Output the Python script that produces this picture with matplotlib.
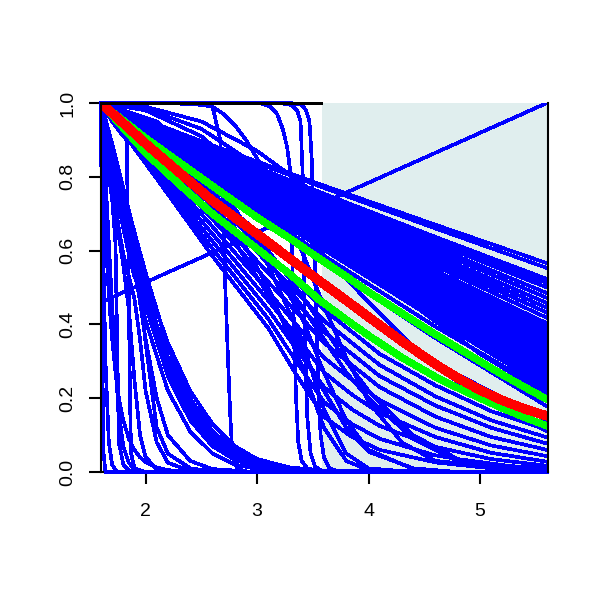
import matplotlib
matplotlib.use('Agg')
import matplotlib.pyplot as plt

# slowly falling, almost straight curves (the big fan)
x_lin = [1.6, 2.6, 3.6, 4.6, 5.6]
lin_curves = [
    [1.0, 0.885, 0.776, 0.670, 0.566],
    [1.0, 0.882, 0.770, 0.660, 0.553],
    [1.0, 0.874, 0.754, 0.637, 0.523],
    [1.0, 0.871, 0.749, 0.629, 0.512],
    [1.0, 0.868, 0.742, 0.620, 0.500],
    [1.0, 0.864, 0.735, 0.609, 0.485],
    [1.0, 0.860, 0.728, 0.599, 0.472],
    [1.0, 0.856, 0.721, 0.588, 0.458],
    [1.0, 0.853, 0.714, 0.578, 0.445],
    [1.0, 0.849, 0.707, 0.568, 0.432],
    [1.0, 0.846, 0.700, 0.558, 0.418],
    [1.0, 0.842, 0.693, 0.546, 0.403],
    [1.0, 0.839, 0.687, 0.538, 0.392],
    [1.0, 0.836, 0.681, 0.530, 0.381],
    [1.0, 0.833, 0.676, 0.521, 0.370],
    [1.0, 0.830, 0.670, 0.514, 0.360],
    [1.0, 0.828, 0.665, 0.506, 0.350],
    [1.0, 0.825, 0.661, 0.499, 0.341],
    [1.0, 0.823, 0.656, 0.492, 0.332],
    [1.0, 0.821, 0.651, 0.485, 0.323],
    [1.0, 0.818, 0.647, 0.479, 0.314],
    [1.0, 0.816, 0.642, 0.472, 0.305],
    [1.0, 0.813, 0.637, 0.465, 0.296],
    [1.0, 0.811, 0.633, 0.458, 0.287],
    [1.0, 0.809, 0.628, 0.451, 0.278],
    [1.0, 0.806, 0.623, 0.444, 0.268],
    [1.0, 0.803, 0.618, 0.436, 0.258],
    [1.0, 0.801, 0.613, 0.428, 0.248],
    [1.0, 0.798, 0.608, 0.421, 0.238],
    [1.0, 0.795, 0.602, 0.413, 0.228],
    [1.0, 0.789, 0.586, 0.394, 0.218],
    [1.0, 0.778, 0.564, 0.363, 0.178],
    [1.0, 0.751, 0.506, 0.295, 0.140],
]

# decays below the band: near straight to x~3, then bending down
x_decay = [1.6, 2.1, 2.6, 3.1, 3.35, 3.6, 3.85, 4.1, 4.6, 5.1, 5.6]
decay_curves = [
    [1.0, 0.875, 0.740, 0.590, 0.515, 0.44, 0.380, 0.320, 0.235, 0.165, 0.115],
    [1.0, 0.865, 0.720, 0.565, 0.490, 0.41, 0.350, 0.290, 0.205, 0.140, 0.094],
    [1.0, 0.855, 0.700, 0.540, 0.460, 0.38, 0.320, 0.260, 0.180, 0.120, 0.077],
    [1.0, 0.845, 0.685, 0.515, 0.435, 0.35, 0.290, 0.230, 0.150, 0.095, 0.060],
    [1.0, 0.835, 0.665, 0.490, 0.400, 0.31, 0.250, 0.195, 0.120, 0.072, 0.043],
    [1.0, 0.825, 0.645, 0.465, 0.370, 0.27, 0.210, 0.160, 0.095, 0.052, 0.028],
    [1.0, 0.815, 0.625, 0.440, 0.335, 0.23, 0.170, 0.125, 0.068, 0.035, 0.017],
    [1.0, 0.805, 0.605, 0.415, 0.300, 0.19, 0.130, 0.090, 0.045, 0.020, 0.009],
    [1.0, 0.795, 0.585, 0.390, 0.265, 0.15, 0.095, 0.060, 0.026, 0.010, 0.004],
]

# curves that hold up and then fall to zero around x = 3.6-4.8
x_late = [1.6, 2.1, 2.6, 3.1, 3.4, 3.6, 3.8, 4.0, 4.4, 4.8, 5.6]
late_curves = [
    [1.0, 0.95, 0.82, 0.56, 0.36, 0.17, 0.05, 0.010, 0.000, 0.000, 0.0],
    [1.0, 0.93, 0.77, 0.50, 0.29, 0.12, 0.03, 0.005, 0.000, 0.000, 0.0],
    [1.0, 0.94, 0.80, 0.58, 0.42, 0.27, 0.14, 0.060, 0.008, 0.000, 0.0],
    [1.0, 0.90, 0.72, 0.48, 0.33, 0.22, 0.12, 0.055, 0.010, 0.000, 0.0],
    [1.0, 0.92, 0.78, 0.60, 0.48, 0.39, 0.30, 0.220, 0.100, 0.035, 0.003],
    [1.0, 0.91, 0.76, 0.57, 0.45, 0.36, 0.27, 0.200, 0.090, 0.030, 0.002],
]

# fast decays reaching zero near x = 2.5-3.3
x_fast = [1.6, 1.7, 1.8, 1.9, 2.0, 2.2, 2.4, 2.6, 2.8, 3.0, 3.3, 3.6, 5.6]
fast_curves = [
    [1.0, 0.88, 0.75, 0.62, 0.50, 0.30, 0.170, 0.090, 0.045, 0.020, 0.005, 0.001, 0.0],
    [1.0, 0.87, 0.73, 0.60, 0.48, 0.28, 0.155, 0.080, 0.040, 0.018, 0.004, 0.001, 0.0],
    [1.0, 0.86, 0.71, 0.57, 0.45, 0.26, 0.140, 0.070, 0.033, 0.014, 0.003, 0.000, 0.0],
    [1.0, 0.89, 0.77, 0.65, 0.54, 0.34, 0.200, 0.110, 0.055, 0.026, 0.008, 0.002, 0.0],
    [1.0, 0.87, 0.74, 0.61, 0.49, 0.31, 0.190, 0.110, 0.060, 0.030, 0.010, 0.003, 0.0],
    [1.0, 0.88, 0.76, 0.64, 0.52, 0.35, 0.220, 0.130, 0.070, 0.035, 0.012, 0.004, 0.0],
    [1.0, 0.85, 0.69, 0.54, 0.41, 0.22, 0.110, 0.050, 0.020, 0.008, 0.002, 0.000, 0.0],
    [1.0, 0.86, 0.72, 0.58, 0.46, 0.29, 0.180, 0.100, 0.050, 0.025, 0.007, 0.002, 0.0],
]

# very steep drops at the left edge
x_left = [1.6, 1.61, 1.62, 1.64, 1.67, 1.7, 1.73, 1.76, 1.8, 1.85, 1.9, 1.95,
          2.0, 2.1, 2.2, 2.4, 2.6, 3.0, 5.6]
left_curves = [
    [1.0, 0.40, 0.06, 0.00, 0.00, 0.00, 0.000, 0.00, 0.00, 0.000, 0.000, 0.000, 0.000, 0.000, 0.000, 0.000, 0.000, 0.0, 0.0],
    [1.0, 0.80, 0.60, 0.30, 0.08, 0.02, 0.005, 0.00, 0.00, 0.000, 0.000, 0.000, 0.000, 0.000, 0.000, 0.000, 0.000, 0.0, 0.0],
    [1.0, 0.95, 0.90, 0.80, 0.62, 0.45, 0.280, 0.16, 0.07, 0.025, 0.008, 0.002, 0.000, 0.000, 0.000, 0.000, 0.000, 0.0, 0.0],
    [1.0, 0.97, 0.94, 0.88, 0.80, 0.74, 0.620, 0.08, 0.02, 0.005, 0.000, 0.000, 0.000, 0.000, 0.000, 0.000, 0.000, 0.0, 0.0],
    [1.0, 0.97, 0.94, 0.89, 0.82, 0.76, 0.700, 0.64, 0.56, 0.440, 0.250, 0.100, 0.040, 0.008, 0.001, 0.000, 0.000, 0.0, 0.0],
    [1.0, 0.97, 0.95, 0.90, 0.84, 0.78, 0.720, 0.66, 0.59, 0.530, 0.470, 0.360, 0.220, 0.080, 0.025, 0.003, 0.000, 0.0, 0.0],
    [1.0, 0.98, 0.96, 0.92, 0.87, 0.82, 0.770, 0.72, 0.66, 0.590, 0.530, 0.490, 0.350, 0.120, 0.050, 0.010, 0.002, 0.0, 0.0],
    [1.0, 0.99, 0.97, 0.94, 0.90, 0.86, 0.820, 0.78, 0.72, 0.640, 0.560, 0.460, 0.360, 0.200, 0.100, 0.030, 0.008, 0.0, 0.0],
    [1.0, 0.90, 0.80, 0.65, 0.48, 0.36, 0.270, 0.20, 0.14, 0.090, 0.060, 0.040, 0.027, 0.012, 0.005, 0.001, 0.000, 0.0, 0.0],
]

# curves that stay near the top for a while
x_slow = [1.6, 2.0, 2.5, 3.0, 3.5, 4.0, 4.5, 5.0, 5.6]
slow_curves = [
    [1.0, 0.980, 0.91, 0.78, 0.62, 0.46, 0.31, 0.20, 0.11],
    [1.0, 0.985, 0.93, 0.83, 0.70, 0.56, 0.43, 0.32, 0.21],
    [1.0, 0.990, 0.95, 0.87, 0.76, 0.64, 0.52, 0.41, 0.30],
]

# step-like curves: flat at 1, then a sharp drop
step_x = [
    [1.6, 1.7, 1.8, 1.83, 1.845, 1.86, 1.87, 1.9, 2.0, 5.6],
    [1.6, 2.2, 2.5, 2.6, 2.67, 2.70, 2.715, 2.74, 2.76, 2.78, 2.82, 2.9, 5.6],
    [1.6, 2.3, 2.5, 2.6, 2.7, 2.8, 2.9, 3.0, 3.2, 3.4, 3.6, 3.8, 4.0, 4.3, 4.6, 5.6],
    [1.6, 2.9, 3.05, 3.12, 3.18, 3.23, 3.27, 3.30, 3.31, 3.33, 3.35, 3.37, 3.40, 3.45, 3.6, 5.6],
    [1.6, 3.2, 3.3, 3.36, 3.39, 3.41, 3.42, 3.43, 3.45, 3.48, 3.52, 3.6, 5.6],
    [1.6, 3.3, 3.40, 3.44, 3.47, 3.49, 3.51, 3.53, 3.55, 3.57, 3.60, 3.65, 3.75, 5.6],
]
step_y = [
    [1.0, 0.95, 0.91, 0.90, 0.60, 0.20, 0.05, 0.01, 0.0, 0.0],
    [1.0, 1.0, 0.995, 0.99, 0.90, 0.70, 0.50, 0.30, 0.15, 0.04, 0.01, 0.0, 0.0],
    [1.0, 1.0, 0.998, 0.99, 0.97, 0.94, 0.90, 0.85, 0.74, 0.60, 0.45, 0.31, 0.19, 0.08, 0.03, 0.0],
    [1.0, 1.0, 0.998, 0.99, 0.97, 0.93, 0.88, 0.81, 0.65, 0.40, 0.20, 0.08, 0.03, 0.01, 0.0, 0.0],
    [1.0, 1.0, 0.995, 0.98, 0.95, 0.80, 0.55, 0.35, 0.15, 0.05, 0.015, 0.0, 0.0],
    [1.0, 1.0, 0.995, 0.98, 0.95, 0.85, 0.65, 0.42, 0.22, 0.10, 0.04, 0.01, 0.0, 0.0],
]

# the one rising straight line
rise_x = [1.6, 5.6]
rise_y = [0.46, 1.0]

# estimate and its band
x_est = [1.6, 2.0, 2.3, 2.6, 3.0, 3.3, 3.56, 3.8, 4.0, 4.3, 4.6, 4.8, 5.0, 5.2, 5.4, 5.6]
est_mid = [1.0, 0.89, 0.812, 0.735, 0.645, 0.577, 0.518, 0.465, 0.42, 0.354, 0.292,
           0.255, 0.222, 0.194, 0.171, 0.152]
est_upper = [1.0, 0.905, 0.84, 0.775, 0.69, 0.632, 0.578, 0.53, 0.488, 0.43, 0.373,
             0.336, 0.30, 0.264, 0.23, 0.197]
est_lower = [1.0, 0.865, 0.78, 0.70, 0.605, 0.535, 0.466, 0.413, 0.37, 0.31, 0.258,
             0.228, 0.20, 0.173, 0.148, 0.125]

shade_from = 3.58
x_range = (1.6, 5.61)
x_ticks = [2, 3, 4, 5]
y_ticks = [0.0, 0.2, 0.4, 0.6, 0.8, 1.0]
y_tick_labels = ['0.0', '0.2', '0.4', '0.6', '0.8', '1.0']


def draw_family(ax, xs, curves):
    for ys in curves:
        ax.plot(xs, ys, color='blue', lw=1.9, clip_on=False, zorder=2)


def main():
    plt.rcParams['font.family'] = ['Liberation Sans', 'DejaVu Sans']
    plt.rcParams['lines.antialiased'] = False
    fig = plt.figure(figsize=(6, 6), dpi=100)
    ax = fig.add_axes([101 / 600, 1 - 472 / 600, 447 / 600, 369 / 600])

    ax.axvspan(shade_from, x_range[1], color='#e0eeee', lw=0, zorder=0.5)

    draw_family(ax, x_lin, lin_curves)
    draw_family(ax, x_decay, decay_curves)
    draw_family(ax, x_late, late_curves)
    draw_family(ax, x_fast, fast_curves)
    draw_family(ax, x_left, left_curves)
    draw_family(ax, x_slow, slow_curves)
    for xs, ys in zip(step_x, step_y):
        ax.plot(xs, ys, color='blue', lw=1.9, clip_on=False, zorder=2)
    ax.plot(rise_x, rise_y, color='blue', lw=1.9, zorder=2)

    ax.plot(x_est, est_upper, color='#00ff00', lw=4.5, zorder=3)
    ax.plot(x_est, est_lower, color='#00ff00', lw=4.5, zorder=3)
    ax.plot(x_est, est_mid, color='red', lw=6, zorder=4)

    ax.set_xlim(*x_range)
    ax.set_ylim(0, 1)

    ax.spines['top'].set_visible(False)
    for side in ['left', 'right', 'bottom']:
        ax.spines[side].set_linewidth(1.5)
        ax.spines[side].set_color('black')
    ax.spines['bottom'].set_zorder(1)
    ax.spines['left'].set_zorder(5)
    ax.spines['right'].set_zorder(5)
    ax.plot([x_range[0], shade_from], [1, 1], color='black', lw=2,
            clip_on=False, zorder=5, solid_capstyle='butt')

    ax.set_xticks(x_ticks)
    ax.set_xticklabels([str(t) for t in x_ticks], fontsize=14)
    ax.set_yticks(y_ticks)
    ax.set_yticklabels(y_tick_labels, fontsize=14, rotation=90, va='center')
    ax.tick_params(axis='both', direction='out', length=8.5, width=1.5, color='black')
    ax.tick_params(axis='x', pad=14)
    ax.tick_params(axis='y', pad=9)

    fig.savefig('out.png', dpi=100)


if __name__ == "__main__":
    main()
